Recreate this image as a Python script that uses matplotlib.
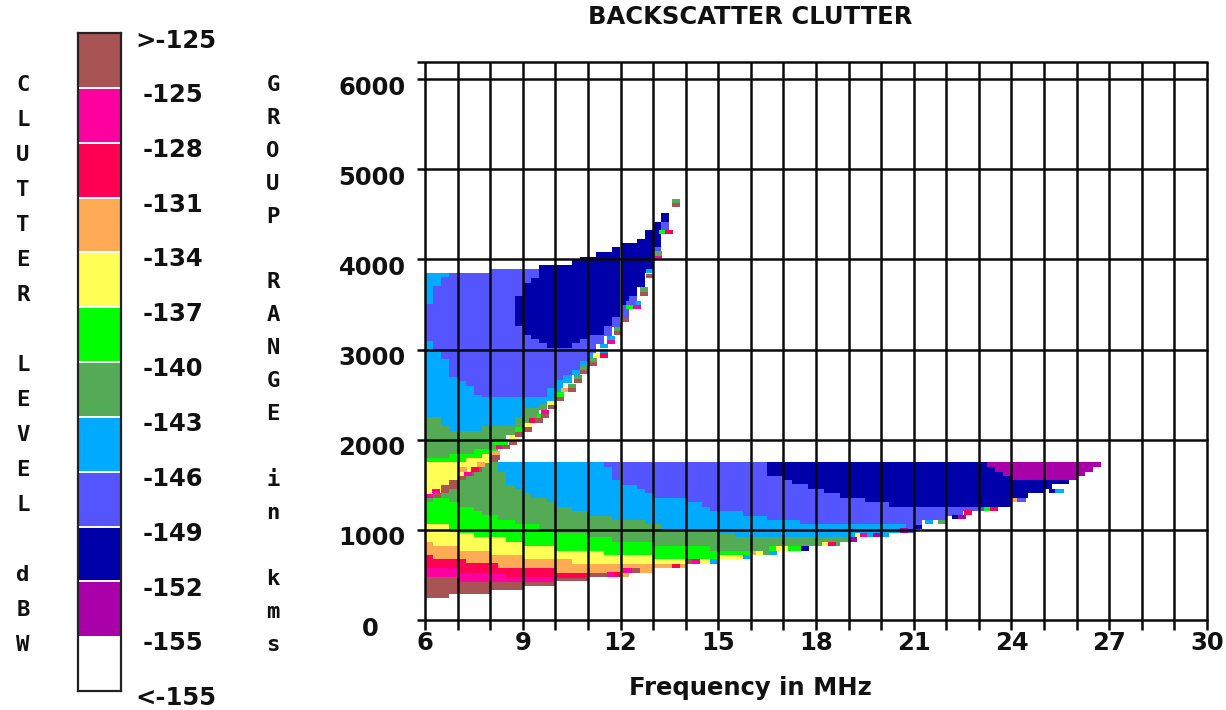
import numpy as np
import matplotlib
matplotlib.use("Agg")
import matplotlib.pyplot as plt
from matplotlib.transforms import ScaledTranslation

W, H = 1226, 710
COL = dict(brown="#A85454", magenta="#FF00A0", red="#FF0055", orange="#FFAA55",
           yellow="#FFFF55", green="#00FF00", darkgreen="#55AA55", lightblue="#00AAFF",
           blue="#5555FF", navy="#0000AA", purple="#AA00AA", white="#FFFFFF")

# ---- lower branch: top of each clutter band per 0.25 MHz column (km); 0 = band absent
low_bottom = [240]*3+[288]*5+[332]*4+[380]*4+[432]*4+[480]*5+[525]*3+[573]*4+[621]*4+[672]*4+[720]*3+[768]*4+[820]*4+[868]*2+[916]*4+[968]*3+[1005]+[1109]*3+[1157]*2+[1209]*3+[1257]*3+[1356]*2+[1404]*2+[1453]+[1504]*2+[1552,1600,1645,1693]
low_brown = [480]*4+[425]*12+[470]*4+[520]*3+[0]*60
low_magenta = [580]*4+[517]*5+[525]+[480]*6+[0]*67
low_red = [721]+[673]*4+[628]*4+[573]*7+[525]*4+[0]*63
low_orange = [868]+[820]*3+[769]*4+[721]*4+[673]*6+[621]*14+[0]*51
low_yellow = [1064]*3+[979]+[961]*2+[917]*4+[868]*2+[820]*4+[769]*6+[721]*6+[673]*8+[720]*4+[0]*43
low_green = [1305]+[1357]*2+[1305]+[1257]*2+[1209]+[1161]*2+[1109]*2+[1061]*3+[1005]*2+[968]*4+[917]*3+[868]*5+[820]*7+[769]*5+[0]*43
low_darkgreen = [1349,1357,1405,1449,1552,1597,1645,1737,1748,1645,1500,1453,1405]+[1357]*2+[1305]+[1257]*2+[1209]*2+[1157]*3+[1109]*4+[1061]*2+[1005]*5+[979]*2+[968]*2+[916]*14+[0]*31
low_lightblue = [0]*9+[1748]*13+[1700,1552]+[1497]*2+[1453,1405]+[1357]*4+[1305]*2+[1257]+[1209]*4+[1157]*3+[1109]*4+[1064]*13+[0]*24
low_blue = [0]*9+[1748]*33+[1600]*2+[1552]+[1504]*2+[1453]*2+[1404]*2+[1356]*3+[1305]*3+[1257]*12+[0]*14
low_navy = [0]*9+[1748]*60+[1693,1645,1600]+[1552]*7+[0]*4
low_purple = [0]*9+[1748]*74

# ---- left wedge above the ridge, 6 to 8.25 MHz
mid_brown = [1349,1405,1497,1552,1597,1645,1693,1745,1841]
mid_yellow = [1748,1748,1748,1748,1748,1793,1793,1841,1841]
mid_green = [1793,1793,1793,1841,1841,1841,1893,1893,1893]

# ---- upper branch, per 0.25 MHz column
up_floor = mid_green+[1978,2050,2137,2180,2285,2330,2429,2525,2625,2720,2850,2960,3061,3155,3253,3400,3540,3690,3889,4085,4325]
up_darkgreen = [2250,2250,2150,2100,2100,2100,2100,2150,2150,2150,2150,2250,2350,2350,2400]+[0]*15
up_lightblue = [3100,3000,2900,2700,2650,2600,2500]+[2477]*8+[2569,2662,2717,2773,2865]+[0]*10
up_top = [3845]*8+[3889]*6+[3937]*4+[3993,4030,4030,4085,4085,4133,4177,4177,4226,4325,4418,4518]
up_blue = [3500,3700,3800]+up_top[3:]
navy_bottom = [np.nan]*11+[3261,3161,3113,3068,3013,3013,3013,3068,3113,3161,3161,3261,3357,3493,3593,3697,3845,4140,4418]
navy_top = [np.nan]*11+[3593,3741,3789]+up_top[14:]

# ---- isolated cells along the edges
cell_freq = [8.06,8.06,8.19,8.36,8.08,8.30,8.57,8.57,8.77,8.77,9.03,9.03,9.18,9.38,9.38,9.18,9.57,9.57,9.79,9.79,
             10.02,10.02,10.17,10.38,10.38,10.56,10.56,10.76,10.76,10.76,11.02,11.02,11.02,11.17,11.36,11.38,11.58,11.58,
             11.79,11.79,12.01,12.01,12.18,12.38,12.38,12.59,12.59,12.79,12.79,13.01,13.01,13.17,13.37,13.58,13.58,
             6.0,6.20,7.20,7.40,7.05,7.60,
             11.36,11.79,12.01,12.18,
             11.58,11.79,12.09,12.35,13.58,14.04,14.19,14.75,15.77,16.02,16.17,16.38,16.56,16.56,16.77,17.0,17.15,17.35,17.55,
             18.17,18.37,19.0,19.19,19.36,19.55,19.75,20.57,21.0,21.34,21.75,22.16,22.36,22.55,23.16,23.35,24.03,24.18,25.15,25.35]
cell_range = [1775,1830,1893,1893,1941,1941,1941,2004,2033,2089,2089,2137,2188,2188,2237,2237,2237,2285,2336,2384,
              2429,2477,2525,2525,2569,2625,2669,2725,2773,2821,2821,2865,2909,2909,2909,3013,3061,3105,
              3161,3205,3301,3346,3445,3445,3493,3597,3641,3789,3845,4004,4041,4277,4277,4621,4577,
              1349,1405,1597,1645,1645,1700,
              2960,3250,3396,3493,
              480,480,525,525,575,625,625,625,672,720,720,720,720,768,768,768,768,768,768,
              820,820,868,916,916,916,916,968,1005,1064,1064,1116,1116,1165,1209,1209,1305,1305,1404,1404]
cell_level = ["brown","orange","magenta","brown","green","green","brown","yellow","brown","green","brown","yellow","red","brown","green","darkgreen","brown","magenta","brown","yellow",
              "brown","green","orange","brown","darkgreen","brown","darkgreen","brown","darkgreen","lightblue","brown","darkgreen","lightblue","yellow","red","lightblue","magenta","lightblue",
              "brown","darkgreen","brown","blue","green","magenta","lightblue","brown","darkgreen","brown","lightblue","magenta","darkgreen","green","red","darkgreen","brown",
              "magenta","magenta","magenta","red","orange","orange",
              "lightblue","blue","blue","blue",
              "magenta","red","magenta","brown","red","brown","magenta","lightblue","lightblue","orange","yellow","darkgreen","lightblue","green","yellow","yellow","green","green","navy",
              "yellow","red","purple","yellow","magenta","lightblue","purple","purple","navy","lightblue","darkgreen","navy","purple","red","green","red","orange","blue","navy","lightblue"]

legend_levels = ["brown","magenta","red","orange","yellow","green","darkgreen","lightblue","blue","navy","purple","white"]
legend_labels = [">-125","-125","-128","-131","-134","-137","-140","-143","-146","-149","-152","-155","<-155"]
x_ticks = [6,9,12,15,18,21,24,27,30]
y_ticks = [0,1000,2000,3000,4000,5000,6000]
x_grid = list(range(6,31))
left_title = "C\nL\nU\nT\nT\nE\nR\n\nL\nE\nV\nE\nL\n\nd\nB\nW"
mid_title = "G\nR\nO\nU\nP\n\nR\nA\nN\nG\nE\n\ni\nn\n\nk\nm\ns"

BOLD = dict(family="DejaVu Sans", fontweight="bold", color="#111111")
FS = 17.5
fig = plt.figure(figsize=(W/100, H/100), dpi=100)

def rect(l, t, r, b):
    return [l/W, 1-b/H, (r-l)/W, (b-t)/H]

ax = fig.add_axes(rect(425, 62, 1207, 620))
ax.set_xlim(6, 30)
ax.set_ylim(0, 6190)
for s in ax.spines.values():
    s.set_visible(False)

def band(x, low, high, name):
    low = np.asarray(low, float); high = np.asarray(high, float)
    ax.bar(x, high-low, bottom=low, width=0.25, align="edge", color=COL[name],
           linewidth=0, antialiased=False, zorder=2)

# lower branch
rows = np.maximum.accumulate(np.array([low_bottom,low_brown,low_magenta,low_red,low_orange,low_yellow,
                                       low_green,low_darkgreen,low_lightblue,low_blue,low_navy,low_purple],float),axis=0)
names = ["brown","magenta","red","orange","yellow","green","darkgreen","lightblue","blue","navy","purple"]
fr = 6+0.25*np.arange(len(low_bottom))
for k,n in enumerate(names):
    band(fr, rows[k], rows[k+1], n)

# wedge
fm = fr[:len(mid_brown)]
band(fm, low_darkgreen[:len(mid_brown)], mid_brown, "brown")
band(fm, mid_brown, mid_yellow, "yellow")
band(fm, mid_yellow, mid_green, "green")

# upper branch
rows = np.maximum.accumulate(np.array([up_floor,up_darkgreen,up_lightblue,up_blue,up_top],float),axis=0)
fu = fr[:len(up_floor)]
for k,n in enumerate(["darkgreen","lightblue","blue","lightblue"]):
    band(fu, rows[k], rows[k+1], n)
band(fu, navy_bottom, navy_top, "navy")

# isolated cells
ax.bar(cell_freq, 50, bottom=cell_range, width=0.25, align="edge",
       color=[COL[c] for c in cell_level], linewidth=0, antialiased=False, zorder=3)

# grid overhanging the plot area
y_over = -110; x_over = 5.75
for v in x_grid:
    ax.plot([v,v],[y_over,6190],color="#0a0a0a",lw=1.8,clip_on=False,zorder=5,solid_capstyle="butt")
for v in y_ticks+[6190]:
    ax.plot([x_over,30.03],[v,v],color="#0a0a0a",lw=1.8,clip_on=False,zorder=5,solid_capstyle="butt")

ax.set_xticks(x_ticks, [str(v) for v in x_ticks], fontsize=FS, **BOLD)
ax.set_yticks(y_ticks, [str(v) for v in y_ticks], fontsize=FS, **BOLD)
ax.tick_params(axis="both", length=0)
ax.tick_params(axis="x", pad=8)
ax.tick_params(axis="y", pad=14)
for lab in ax.get_yticklabels():
    dx = -27/100 if lab.get_text()=="0" else 0
    lab.set_transform(lab.get_transform()+ScaledTranslation(dx,-6/100,fig.dpi_scale_trans))

fig.text(750/W, 1-17/H, "BACKSCATTER CLUTTER", ha="center", va="center", fontsize=FS, **BOLD)
fig.text(750/W, 1-688/H, "Frequency in MHz", ha="center", va="center", fontsize=FS, **BOLD)

# colour key
cax = fig.add_axes(rect(78, 33, 121, 691))
n = len(legend_levels)
cax.set_xlim(0,1); cax.set_ylim(n,0)
cax.bar([0]*n, 1, bottom=range(n), width=1, align="edge", color=[COL[c] for c in legend_levels],
        linewidth=0, antialiased=False)
cax.hlines(range(1,n-1), 0, 1, color="white", lw=1.4)
cax.set_xticks([]); cax.set_yticks([])
for s in cax.spines.values():
    s.set_linewidth(1.6); s.set_color("#222222")

ypos = [41,95,150,205,259,314,369,424,479,534,589,643,698]
for t,y in zip(legend_labels,ypos):
    xl = 135 if t[0] in "<>" else 143
    fig.text(xl/W, 1-y/H, t, ha="left", va="center", fontsize=FS, **BOLD)

MONO = dict(family="DejaVu Sans Mono", fontweight="bold", color="#111111", fontsize=16)
fig.text(23/W, 1-75/H, left_title, ha="center", va="top", linespacing=1.938, **MONO)
fig.text(273/W, 1-75/H, mid_title, ha="center", va="top", linespacing=1.807, **MONO)

fig.savefig("out.png", dpi=100)
